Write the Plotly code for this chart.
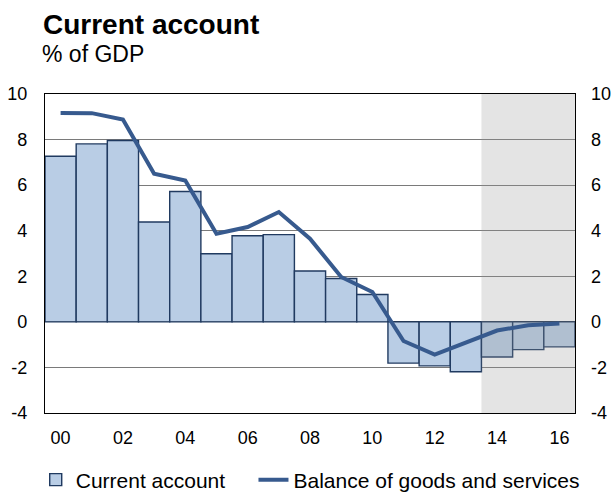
import plotly.graph_objects as go

# Annual data, % of GDP (2014-2016 are projections)
years = list(range(2000, 2017))
current_account = [7.27, 7.81, 7.96, 4.38, 5.72, 2.99, 3.78, 3.83, 2.23, 1.90,
                   1.20, -1.81, -1.93, -2.19, -1.54, -1.22, -1.10]
goods_services = [9.17, 9.16, 8.88, 6.50, 6.20, 3.87, 4.16, 4.82, 3.65, 1.97,
                  1.31, -0.84, -1.44, -0.90, -0.38, -0.15, -0.07]
year_ticks = [2000, 2002, 2004, 2006, 2008, 2010, 2012, 2014, 2016]
year_labels = ["00", "02", "04", "06", "08", "10", "12", "14", "16"]
y_ticks = [-4, -2, 0, 2, 4, 6, 8, 10]
y_labels = [str(v) for v in y_ticks]  # plain hyphen for negatives
projection_start = 2014

FONT = "Liberation Sans, Arial, sans-serif"
BAR_FILL = "#b9cde5"
BAR_EDGE = "#203a60"
LINE_COL = "#375a8e"
GAP = "\u00a0" * 4  # extra spacing between the two legend entries

x_lo, x_hi = years[0] - 0.5, years[-1] + 0.5
y_lo, y_hi = y_ticks[0], y_ticks[-1]

fig = go.Figure()

fig.add_trace(go.Bar(
    x=years, y=current_account, width=1.0,
    marker=dict(color=BAR_FILL, line=dict(color=BAR_EDGE, width=1.4)),
    name="Current account" + GAP,
))

# projection period shading, drawn over the bars but under the line
fig.add_trace(go.Scatter(
    x=[projection_start - 0.5, x_hi, x_hi, projection_start - 0.5],
    y=[y_lo, y_lo, y_hi, y_hi],
    fill="toself", fillcolor="rgba(150,152,152,0.26)",
    mode="lines", line=dict(width=0),
    hoverinfo="skip", showlegend=False,
))

fig.add_trace(go.Scatter(
    x=years, y=goods_services, mode="lines",
    line=dict(color=LINE_COL, width=4),
    name="Balance of goods and services",
    yaxis="y2",
))

axis_common = dict(
    range=[y_lo, y_hi], tickvals=y_ticks, ticktext=y_labels, ticks="",
    tickfont=dict(family=FONT, size=18, color="#000"),
)

fig.update_layout(
    width=614, height=495,
    margin=dict(l=45, r=39, t=94, b=82, autoexpand=False),
    paper_bgcolor="white", plot_bgcolor="white",
    font=dict(family=FONT, color="#000"),
    barmode="overlay",
    xaxis=dict(
        range=[x_lo, x_hi], tickvals=year_ticks, ticktext=year_labels,
        showgrid=False, zeroline=False,
        showline=True, linecolor="#000", linewidth=1.2, mirror=True,
        ticks="", ticklabelstandoff=8,
        tickfont=dict(family=FONT, size=18, color="#000"),
    ),
    yaxis=dict(
        **axis_common,
        ticklabelstandoff=13,
        showgrid=True, gridcolor="#7a7a7a", gridwidth=1,
        zeroline=True, zerolinecolor="#000", zerolinewidth=1.2,
        showline=True, linecolor="#000", linewidth=1.2, mirror=True,
    ),
    yaxis2=dict(
        **axis_common,
        ticklabelstandoff=15,
        overlaying="y", side="right",
        showgrid=False, zeroline=False, showline=False,
    ),
    legend=dict(
        orientation="h", xref="paper", yref="paper",
        x=-0.0175, y=-0.21, xanchor="left", yanchor="middle",
        font=dict(family=FONT, size=21, color="#000"),
        bgcolor="rgba(0,0,0,0)", itemwidth=30,
    ),
    annotations=[
        dict(text="<b>Current account</b>", xref="paper", yref="paper",
             x=-0.0075, y=1.2175, xanchor="left", yanchor="middle",
             showarrow=False, font=dict(family=FONT, size=28, color="#000")),
        dict(text="% of GDP", xref="paper", yref="paper",
             x=-0.009, y=1.125, xanchor="left", yanchor="middle",
             showarrow=False, font=dict(family=FONT, size=23, color="#000")),
    ],
)

fig.write_html("out.html")
